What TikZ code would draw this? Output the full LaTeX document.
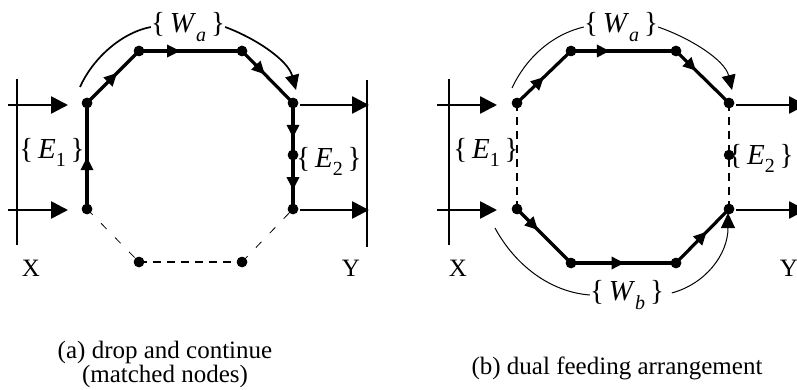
\documentclass[tikz,border=0pt]{standalone}
\usepackage{fontspec}
\setmainfont{Liberation Serif}
\usetikzlibrary{arrows.meta,decorations.markings}

\newcommand{\setlbl}[2]{{\fontsize{29}{29}\selectfont\{\,\textit{#1}\raisebox{-0.28em}{\fontsize{20}{20}\selectfont #2}\,\}}}

\tikzset{
  dotn/.style={circle, fill=black, inner sep=0pt, minimum size=10.5pt},
  mainpath/.style={line width=3.2pt},
  barline/.style={line width=1.6pt},
  bigarr/.style={line width=2.6pt, -{Triangle[length=17pt,width=17pt]}},
  midarr/.style={postaction={decorate}, decoration={markings, mark=at position #1 with {\arrow{Triangle[length=13pt,width=12pt]}}}},
  thindash/.style={line width=0.8pt, dash pattern=on 8pt off 12pt},
  thickdash/.style={line width=2pt, dash pattern=on 8pt off 6pt},
  arcL/.style={line width=1.7pt},
  arcR/.style={line width=1pt},
  arctip/.style={-{Triangle[length=15pt,width=14pt]}},
  lbl/.style={inner sep=0pt},
  txt/.style={inner sep=0pt, font=\fontsize{25}{24}\selectfont}
}

\begin{document}
\begin{tikzpicture}[x=1pt,y=-1pt]
\useasboundingbox (0,0) rectangle (797,390);

% ---------------- Left panel (a) ----------------
\node[dotn] (a1) at (87,103) {};
\node[dotn] (a2) at (139,51) {};
\node[dotn] (a3) at (242,51) {};
\node[dotn] (a4) at (293,103) {};
\node[dotn] (a5) at (293,155) {};
\node[dotn] (a6) at (293,209) {};
\node[dotn] (a7) at (87,209) {};
\node[dotn] (a8) at (139,262) {};
\node[dotn] (a9) at (242,262) {};

\draw[mainpath, midarr=0.49] (a7.center) -- (a1.center);
\draw[mainpath, midarr=0.58] (a1.center) -- (a2.center);
\draw[mainpath, midarr=0.40] (a2.center) -- (a3.center);
\draw[mainpath, midarr=0.45] (a3.center) -- (a4.center);
\draw[mainpath, midarr=0.67] (a4.center) -- (a5.center);
\draw[mainpath, midarr=0.65] (a5.center) -- (a6.center);
\draw[thindash] (a7.center) -- (a8.center);
\draw[thickdash] (a8.center) -- (a9.center);
\draw[thindash] (a9.center) -- (a6.center);

\foreach \n in {a1,a2,a3,a4,a5,a6,a7,a8,a9} \fill (\n.center) circle (5.25pt);

% bars
\coordinate (xLt) at (17,79);  \coordinate (xLb) at (17,245);
\draw[barline] (xLt) -- (xLb);
\coordinate (yLt) at (367,80); \coordinate (yLb) at (367,247);
\draw[barline] (yLt) -- (yLb);

% input / output arrows
\coordinate (inL1s) at (8,105);  \coordinate (inL1e) at (68,105);
\coordinate (inL2s) at (8,210);  \coordinate (inL2e) at (68,210);
\draw[bigarr] (inL1s) -- (inL1e);
\draw[bigarr] (inL2s) -- (inL2e);
\coordinate (outL1s) at (300,105); \coordinate (outL1e) at (369,105);
\coordinate (outL2s) at (300,210); \coordinate (outL2e) at (369,210);
\draw[bigarr] (outL1s) -- (outL1e);
\draw[bigarr] (outL2s) -- (outL2e);

% labels
\node[txt] (XL) at (31,268) {X};
\node[txt] (YL) at (351,268) {Y};
\node[lbl] (E1L) at (52,152) {\setlbl{E}{1}};
\node[lbl] (E2L) at (329,161) {\setlbl{E}{2}};
\node[lbl] (WaL) at (188,27) {\setlbl{W}{\textit{a}}};

% W_a arc (left)
\coordinate (waLs) at (80,87);
\coordinate (waLe) at (296,90);
\draw[arcL] (waLs) .. controls (92,60) and (120,33) .. (WaL.west);
\draw[arcL, arctip] (WaL.east) .. controls (255,38) and (288,60) .. (waLe);

\node[txt, align=center] (capA) at (165,364) {(a) drop and continue\\(matched nodes)};

% ---------------- Right panel (b) ----------------
\node[dotn] (b1) at (517,103) {};
\node[dotn] (b2) at (571,51) {};
\node[dotn] (b3) at (676,51) {};
\node[dotn] (b4) at (729,103) {};
\node[dotn] (b5) at (729,155) {};
\node[dotn] (b6) at (729,209) {};
\node[dotn] (b7) at (517,209) {};
\node[dotn] (b8) at (571,263) {};
\node[dotn] (b9) at (676,263) {};

\draw[mainpath, midarr=0.50] (b1.center) -- (b2.center);
\draw[mainpath, midarr=0.37] (b2.center) -- (b3.center);
\draw[mainpath, midarr=0.38] (b3.center) -- (b4.center);
\draw[mainpath, midarr=0.39] (b7.center) -- (b8.center);
\draw[mainpath, midarr=0.51] (b8.center) -- (b9.center);
\draw[mainpath, midarr=0.58] (b9.center) -- (b6.center);
\draw[thickdash] (b1.center) -- (b7.center);
\draw[thickdash] (b4.center) -- (b5.center) -- (b6.center);

\foreach \n in {b1,b2,b3,b4,b6,b7,b8,b9} \fill (\n.center) circle (5.25pt);
\fill (b5.center) circle (4.2pt);

\coordinate (xRt) at (449,79); \coordinate (xRb) at (449,245);
\draw[barline] (xRt) -- (xRb);

\coordinate (inR1s) at (437,105); \coordinate (inR1e) at (497,105);
\coordinate (inR2s) at (437,210); \coordinate (inR2e) at (497,210);
\draw[bigarr] (inR1s) -- (inR1e);
\draw[bigarr] (inR2s) -- (inR2e);
\coordinate (outR1s) at (736,105); \coordinate (outR1e) at (806,105);
\coordinate (outR2s) at (736,210); \coordinate (outR2e) at (806,210);
\draw[bigarr] (outR1s) -- (outR1e);
\draw[bigarr] (outR2s) -- (outR2e);

\node[txt] (XR) at (458,268) {X};
\node[txt] (YR) at (789,268) {Y};
\node[lbl] (E1R) at (486,152) {\setlbl{E}{1}};
\node[lbl] (E2R) at (761,158) {\setlbl{E}{2}};
\node[lbl] (WaR) at (621,27) {\setlbl{W}{\textit{a}}};
\node[lbl] (WbR) at (627,295) {\setlbl{W}{\textit{b}}};

\coordinate (waRs) at (512,88);
\coordinate (waRe) at (732,90);
\draw[arcR] (waRs) .. controls (525,60) and (550,35) .. (WaR.west);
\draw[arcR, arctip] (WaR.east) .. controls (690,38) and (725,60) .. (waRe);

\coordinate (wbRs) at (495,228);
\coordinate (wbRe) at (728,213);
\draw[arcR] (wbRs) .. controls (515,265) and (550,292) .. (WbR.west);
\draw[arcR, arctip, shorten <=8pt] (WbR.east) .. controls (705,284) and (728,255) .. (wbRe);

\node[txt] (capB) at (617,368) {(b) dual feeding arrangement};
\end{tikzpicture}
\end{document}
